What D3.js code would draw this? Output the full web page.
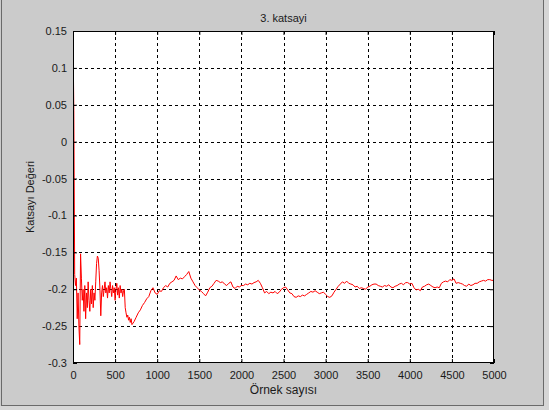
<!DOCTYPE html>
<html><head><meta charset="utf-8">
<script src="https://cdn.jsdelivr.net/npm/d3@7/dist/d3.min.js"></script>
<style>
html,body{margin:0;padding:0;background:#cbcbcb;}
svg{display:block;font-family:"Liberation Sans",Arial,sans-serif;}
</style></head>
<body><svg id="c" width="549" height="410"></svg>
<script>
const title = "3. katsayi";
const xLabel = "Örnek sayısı";
const yLabel = "Katsayı Değeri";
const xTicks = [0,500,1000,1500,2000,2500,3000,3500,4000,4500,5000];
const yTicks = [-0.3,-0.25,-0.2,-0.15,-0.1,-0.05,0,0.05,0.1,0.15];
const yTickLabels = ["-0.3","-0.25","-0.2","-0.15","-0.1","-0.05","0","0.05","0.1","0.15"];

// early part: samples 0..700, every 10 samples
const earlyStep = 10;
const earlyValues = [0.145,0.042,-0.180,-0.195,-0.185,-0.240,-0.205,-0.250,-0.275,-0.152,
-0.185,-0.215,-0.200,-0.230,-0.195,-0.240,-0.205,-0.225,-0.190,-0.215,
-0.230,-0.200,-0.220,-0.195,-0.225,-0.205,-0.215,-0.190,-0.165,-0.155,
-0.158,-0.175,-0.200,-0.236,-0.205,-0.195,-0.210,-0.200,-0.190,-0.205,
-0.198,-0.212,-0.195,-0.205,-0.190,-0.200,-0.210,-0.195,-0.205,-0.198,
-0.215,-0.200,-0.192,-0.208,-0.198,-0.212,-0.195,-0.205,-0.200,-0.210,
-0.202,-0.200,-0.225,-0.232,-0.238,-0.235,-0.242,-0.238,-0.245,-0.240,-0.248];

// late part: samples 725..5000, every 25 samples
const lateStart = 725;
const lateStep = 25;
const lateValues = [-0.244,-0.238,-0.232,-0.228,-0.222,-0.218,-0.213,-0.210,-0.202,-0.198,
-0.205,-0.207,-0.202,-0.203,-0.198,-0.195,-0.197,-0.192,-0.190,-0.188,
-0.182,-0.187,-0.185,-0.186,-0.183,-0.180,-0.176,-0.185,-0.190,-0.195,
-0.198,-0.201,-0.203,-0.206,-0.209,-0.204,-0.198,-0.196,-0.192,-0.188,
-0.189,-0.191,-0.190,-0.193,-0.195,-0.192,-0.190,-0.197,-0.199,-0.196,
-0.197,-0.195,-0.195,-0.193,-0.194,-0.192,-0.193,-0.191,-0.190,-0.188,
-0.192,-0.198,-0.205,-0.203,-0.206,-0.204,-0.205,-0.203,-0.206,-0.204,
-0.200,-0.198,-0.197,-0.201,-0.205,-0.206,-0.210,-0.211,-0.209,-0.210,
-0.208,-0.209,-0.207,-0.205,-0.203,-0.204,-0.202,-0.204,-0.206,-0.205,
-0.204,-0.207,-0.210,-0.211,-0.209,-0.204,-0.200,-0.196,-0.193,-0.190,
-0.192,-0.189,-0.192,-0.193,-0.194,-0.197,-0.196,-0.199,-0.198,-0.199,
-0.200,-0.197,-0.196,-0.194,-0.193,-0.193,-0.195,-0.196,-0.197,-0.195,
-0.196,-0.194,-0.197,-0.198,-0.196,-0.195,-0.193,-0.192,-0.194,-0.191,
-0.191,-0.193,-0.192,-0.198,-0.201,-0.200,-0.202,-0.197,-0.196,-0.194,
-0.193,-0.195,-0.197,-0.198,-0.197,-0.198,-0.192,-0.190,-0.189,-0.190,
-0.187,-0.188,-0.186,-0.192,-0.191,-0.192,-0.193,-0.195,-0.196,-0.193,
-0.195,-0.194,-0.192,-0.192,-0.190,-0.189,-0.188,-0.189,-0.187,-0.187,
-0.188,-0.188];

const data = earlyValues.map((v,i)=>({x:i*earlyStep,y:v}))
  .concat(lateValues.map((v,i)=>({x:lateStart+i*lateStep,y:v})));

const svg = d3.select("#c");
// figure frame
svg.append("rect").attr("x",544).attr("y",0).attr("width",5).attr("height",410).attr("fill","#d6d6d6");
svg.append("rect").attr("x",0).attr("y",406).attr("width",549).attr("height",4).attr("fill","#d6d6d6");
svg.append("line").attr("x1",1.5).attr("x2",1.5).attr("y1",0).attr("y2",406).attr("stroke","#6a6a6a");
svg.append("line").attr("x1",543.5).attr("x2",543.5).attr("y1",0).attr("y2",406).attr("stroke","#6a6a6a");
svg.append("line").attr("x1",1).attr("x2",544).attr("y1",405.5).attr("y2",405.5).attr("stroke","#6a6a6a");

const L=73, R=494, T=31, B=363;
const x = d3.scaleLinear().domain([0,5000]).range([L,R]);
const y = d3.scaleLinear().domain([-0.3,0.15]).range([B,T]);

svg.append("rect").attr("x",L).attr("y",T).attr("width",R-L).attr("height",B-T).attr("fill","#fff");

const g = svg.append("g");
// grid
g.selectAll(".gx").data(xTicks.slice(1,-1)).join("line")
  .attr("x1",d=>Math.round(x(d))+0.5).attr("x2",d=>Math.round(x(d))+0.5)
  .attr("y1",T).attr("y2",B).attr("stroke","#000").attr("stroke-dasharray","3,3").attr("stroke-width",1);
g.selectAll(".gy").data(yTicks.slice(1,-1)).join("line")
  .attr("y1",d=>Math.round(y(d))+0.5).attr("y2",d=>Math.round(y(d))+0.5)
  .attr("x1",L).attr("x2",R).attr("stroke","#000").attr("stroke-dasharray","3,3").attr("stroke-width",1);

// line
const clip = svg.append("clipPath").attr("id","cp").append("rect").attr("x",L).attr("y",T).attr("width",R-L).attr("height",B-T);
svg.append("path").datum(data).attr("clip-path","url(#cp)")
  .attr("d",d3.line().x(d=>x(d.x)).y(d=>y(d.y)))
  .attr("fill","none").attr("stroke","#ff0000").attr("stroke-width",1);

// axes
const xa = svg.append("g").attr("transform",`translate(0,${B})`)
  .call(d3.axisBottom(x).tickValues(xTicks).tickSize(-4).tickPadding(8).tickFormat(d3.format("d")));
const ya = svg.append("g").attr("transform",`translate(${L},0)`)
  .call(d3.axisLeft(y).tickValues(yTicks).tickSize(-4).tickPadding(6).tickFormat((d,i)=>yTickLabels[i]));
[xa,ya].forEach(a=>{
  a.selectAll("text").attr("font-size",11).attr("fill","#1a1a1a").attr("font-family","'Liberation Sans',Arial,sans-serif");
  a.select(".domain").remove();
  a.selectAll(".tick line").attr("stroke","#000");
});
// top/right ticks
svg.append("g").attr("transform",`translate(0,${T})`).call(d3.axisTop(x).tickValues(xTicks).tickSize(-4).tickFormat(""))
  .call(a=>a.select(".domain").remove());
svg.append("g").attr("transform",`translate(${R},0)`).call(d3.axisRight(y).tickValues(yTicks).tickSize(-4).tickFormat(""))
  .call(a=>a.select(".domain").remove());
// box
svg.append("rect").attr("x",L+0.5).attr("y",T+0.5).attr("width",R-L-1).attr("height",B-T-1)
  .attr("fill","none").attr("stroke","#000").attr("stroke-width",1);

svg.append("text").attr("x",(L+R)/2).attr("y",22).attr("text-anchor","middle")
  .attr("font-size",11).attr("fill","#1a1a1a").text(title);
svg.append("text").attr("x",(L+R)/2).attr("y",394).attr("text-anchor","middle")
  .attr("font-size",12).attr("fill","#1a1a1a").text(xLabel);
svg.append("text").attr("transform",`translate(34,${(T+B)/2}) rotate(-90)`).attr("text-anchor","middle")
  .attr("font-size",11).attr("fill","#1a1a1a").text(yLabel);
</script></body></html>
